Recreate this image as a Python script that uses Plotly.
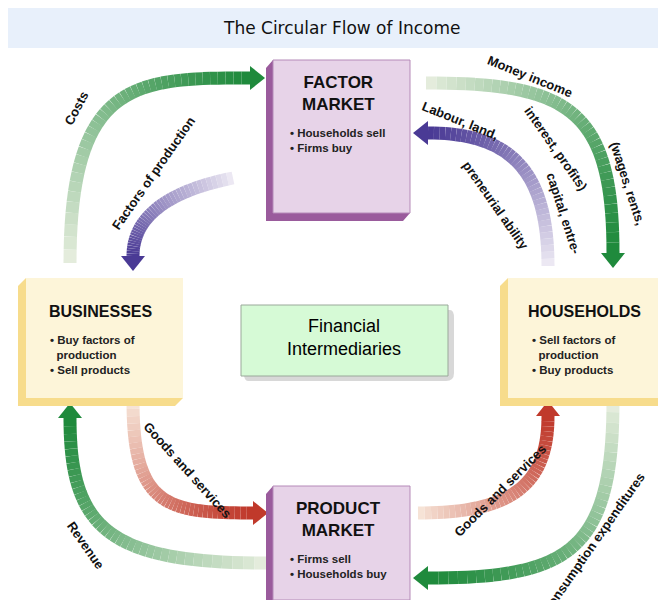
import numpy as np
import plotly.graph_objects as go

# ── Diagram content ──
title = "The Circular Flow of Income"

box_names = ["FACTOR<br>MARKET", "PRODUCT<br>MARKET", "BUSINESSES", "HOUSEHOLDS"]
box_bullets = [
    ["Households sell", "Firms buy"],
    ["Firms sell", "Households buy"],
    ["Buy factors of<br>  production", "Sell products"],
    ["Sell factors of<br>  production", "Buy products"],
]
box_x0 = [265, 265, 18, 500]
box_x1 = [402, 402, 175, 660]
box_y0 = [52, 478, 270, 270]
box_y1 = [205, 592, 390, 390]
box_kind = ["market", "market", "sector", "sector"]

centre_label = "Financial<br>Intermediaries"

# arrows: cubic control points (pixel coordinates), start colour, end colour
arrow_pts = [
    [(62, 255), (62, 70), (130, 70), (242, 70)],      # costs
    [(225, 170), (150, 185), (125, 215), (125, 248)],  # factors of production
    [(418, 75), (560, 75), (605, 100), (605, 245)],    # money income
    [(540, 258), (540, 160), (500, 125), (420, 125)],  # labour, land...
    [(125, 393), (125, 500), (160, 505), (245, 505)],  # goods (left)
    [(258, 555), (100, 555), (62, 520), (62, 410)],    # revenue
    [(410, 505), (500, 505), (540, 480), (540, 408)],  # goods (right)
    [(605, 393), (605, 545), (560, 570), (420, 570)],  # consumption
]
arrow_colors = [
    ("#e4ecdc", "#1f8a3c"), ("#ece8f3", "#4a3a95"),
    ("#e4ecdc", "#1f8a3c"), ("#ece8f3", "#4a3a95"),
    ("#f6e3d6", "#c0392b"), ("#e4ecdc", "#1f8a3c"),
    ("#f6e3d6", "#c0392b"), ("#e4ecdc", "#1f8a3c"),
]

labels = ["Costs", "Factors of production", "Money income", "(wages, rents,",
          "interest, profits)", "Labour, land,", "capital, entre-",
          "preneurial ability", "Goods and services", "Revenue",
          "Goods and services", "Consumption expenditures"]
label_x = [68, 145, 522, 620, 548, 452, 556, 488, 180, 78, 492, 585]
label_y = [100, 165, 68, 175, 140, 112, 205, 197, 462, 537, 482, 535]
label_angle = [-62, -55, 22, 72, 55, 22, 72, 55, 48, 55, -45, -55]


def hex_rgb(h):
    h = h.lstrip("#")
    return np.array([int(h[i:i + 2], 16) for i in (0, 2, 4)], float)


def bezier(p, t):
    p = np.array(p, float)
    return ((1 - t) ** 3)[:, None] * p[0] + (3 * (1 - t) ** 2 * t)[:, None] * p[1] \
        + (3 * (1 - t) * t ** 2)[:, None] * p[2] + (t ** 3)[:, None] * p[3]


fig = go.Figure()
shapes = []
annotations = []

# title band
shapes.append(dict(type="rect", xref="paper", yref="paper", x0=-0.05, x1=1.05, y0=1.05, y1=1 - 40 / 600,
                   fillcolor="#e8f0fb", line_width=0, layer="below"))
annotations.append(dict(x=333, y=20, text=title, showarrow=False,
                        font=dict(family="DejaVu Sans", size=17, color="#111")))

# arrows
n = 40
for pts, (c0, c1) in zip(arrow_pts, arrow_colors):
    t = np.linspace(0, 1, n + 1)
    xy = bezier(pts, t)
    a, b = hex_rgb(c0), hex_rgb(c1)
    for i in range(n):
        f = (i / (n - 1)) ** 0.8
        c = a + (b - a) * f
        fig.add_trace(go.Scatter(
            x=xy[i:i + 2, 0], y=xy[i:i + 2, 1], mode="lines",
            line=dict(color=f"rgb({c[0]:.0f},{c[1]:.0f},{c[2]:.0f})", width=13),
            hoverinfo="skip", showlegend=False))
    # arrowhead
    tip_dir = np.array(pts[3], float) - np.array(pts[2], float)
    d = tip_dir / np.linalg.norm(tip_dir)
    nrm = np.array([-d[1], d[0]])
    base = np.array(pts[3], float)
    tip = base + d * 15
    l, r = base + nrm * 12, base - nrm * 12
    shapes.append(dict(type="path", path=f"M{l[0]},{l[1]} L{tip[0]},{tip[1]} L{r[0]},{r[1]} Z",
                       fillcolor=c1, line_width=0))

# boxes
for name, bullets, x0, x1, y0, y1, kind in zip(box_names, box_bullets, box_x0, box_x1, box_y0, box_y1, box_kind):
    if kind == "market":
        face, edge, dark = "#e7d3e8", "#b58ab8", "#9a5b9c"
        shapes.append(dict(type="path", path=f"M{x0},{y0} L{x0-7},{y0+8} L{x0-7},{y1+8} L{x1-7},{y1+8} L{x1},{y1} Z",
                           fillcolor=dark, line_width=0))
        shapes.append(dict(type="rect", x0=x0, x1=x1, y0=y0, y1=y1, fillcolor=face,
                           line=dict(color=edge, width=1)))
        annotations.append(dict(x=(x0 + x1) / 2 - 3, y=y0 + 33, text=f"<b>{name}</b>", showarrow=False,
                                font=dict(family="Liberation Sans", size=17, color="#111")))
        btxt = "<br>".join(f"• {b}" for b in bullets)
        annotations.append(dict(x=x0 + 15, y=y0 + 80, text=f"<b>{btxt}</b>", showarrow=False, xanchor="left",
                                align="left", font=dict(family="Liberation Sans", size=11.5, color="#222")))
    else:
        face, dark = "#fdf5d9", "#f7dc8c"
        shapes.append(dict(type="path", path=f"M{x0},{y0} L{x0-8},{y0+8} L{x0-8},{y1+8} L{x1-8},{y1+8} L{x1},{y1} Z",
                           fillcolor=dark, line_width=0))
        shapes.append(dict(type="rect", x0=x0, x1=x1, y0=y0, y1=y1, fillcolor=face, line_width=0))
        annotations.append(dict(x=(x0 + x1) / 2 - 4, y=y0 + 33, text=f"<b>{name}</b>", showarrow=False,
                                font=dict(family="Liberation Sans", size=16, color="#111")))
        btxt = "<br>".join(f"• {b}" for b in bullets)
        annotations.append(dict(x=x0 + 22, y=y0 + 77, text=f"<b>{btxt}</b>", showarrow=False, xanchor="left",
                                align="left", font=dict(family="Liberation Sans", size=11.5, color="#222")))

# financial intermediaries
shapes.append(dict(type="path", path="M248,302 L442,302 Q446,302 446,310 L446,365 Q446,373 438,373 L240,373 Q236,373 236,365 Z",
                   fillcolor="#d8d8d8", line_width=0))
shapes.append(dict(type="rect", x0=233, x1=440, y0=297, y1=368, fillcolor="#d6fad6",
                   line=dict(color="#9aa89a", width=1)))
annotations.append(dict(x=336, y=329, text=centre_label, showarrow=False,
                        font=dict(family="Liberation Sans", size=18, color="#000")))

# flow labels
for txt, x, y, ang in zip(labels, label_x, label_y, label_angle):
    annotations.append(dict(x=x, y=y, text=f"<b>{txt}</b>", showarrow=False, textangle=ang,
                            font=dict(family="Liberation Sans", size=13, color="#111")))

fig.update_layout(
    width=666, height=600, margin=dict(l=0, r=0, t=0, b=0),
    paper_bgcolor="white", plot_bgcolor="white",
    xaxis=dict(range=[0, 666], visible=False, fixedrange=True),
    yaxis=dict(range=[600, 0], visible=False, fixedrange=True),
    shapes=shapes, annotations=annotations, showlegend=False,
)
fig.write_html("out.html")
